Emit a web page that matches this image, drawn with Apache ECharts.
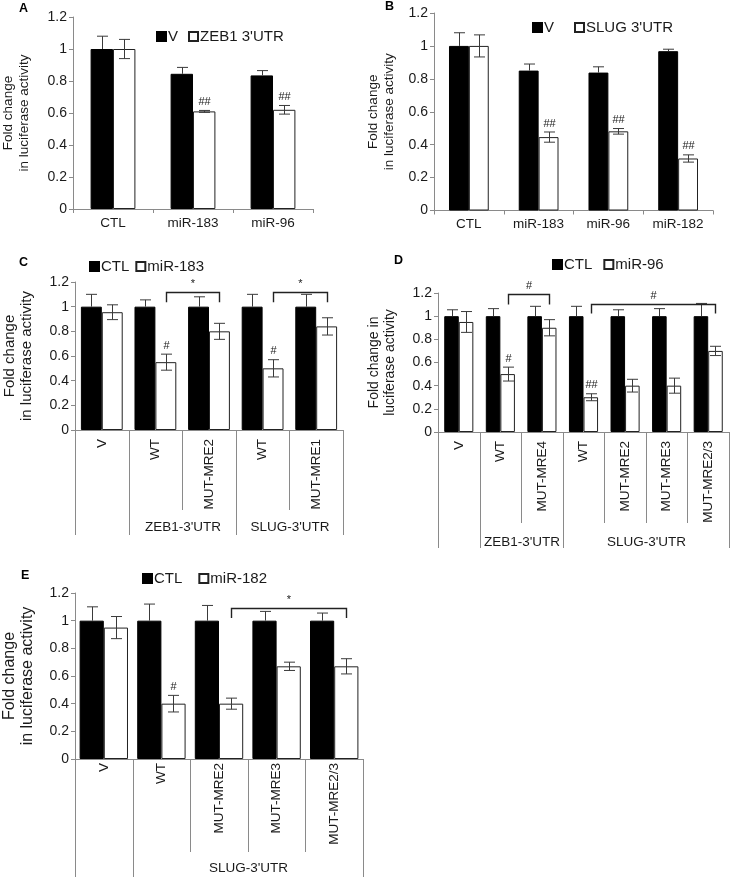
<!DOCTYPE html>
<html><head><meta charset="utf-8">
<script src="https://cdn.jsdelivr.net/npm/echarts@6/dist/echarts.min.js"></script>
<style>html,body{margin:0;padding:0;background:#fff}#c{width:733px;height:878px}</style>
</head><body><div id="c"></div>
<script>
// ---------- Panel A ----------
const catsA = ['CTL', 'miR-183', 'miR-96'];
const namesA = ['V', "ZEB1 3'UTR"];
const valsA1 = [1.0, 0.845, 0.835];
const errA1 = [0.08, 0.04, 0.03];
const valsA2 = [1.0, 0.61, 0.62];
const errA2 = [0.06, 0.006, 0.027];
const marksA = ['', '##', '##'];

// ---------- Panel B ----------
const catsB = ['CTL', 'miR-183', 'miR-96', 'miR-182'];
const namesB = ['V', "SLUG 3'UTR"];
const valsB1 = [1.0, 0.85, 0.838, 0.968];
const errB1 = [0.08, 0.04, 0.035, 0.012];
const valsB2 = [1.0, 0.446, 0.481, 0.316];
const errB2 = [0.067, 0.031, 0.017, 0.022];
const marksB = ['', '##', '##', '##'];

// ---------- Panel C ----------
const catsC = ['V', 'WT', 'MUT-MRE2', 'WT', 'MUT-MRE1'];
const namesC = ['CTL', 'miR-183'];
const valsC1 = [1, 1, 1, 1, 1];
const errC1 = [0.10, 0.055, 0.08, 0.10, 0.10];
const valsC2 = [0.955, 0.55, 0.80, 0.50, 0.84];
const errC2 = [0.06, 0.065, 0.065, 0.07, 0.07];
const marksC = ['', '#', '', '#', ''];
const groupNamesC = ['', "ZEB1-3'UTR", "SLUG-3'UTR"];
const groupStartC = [0, 1, 3];
const groupEndC = [0, 2, 4];
const brFromC = [1, 3], brToC = [2, 4], brTopC = [1.12, 1.12], brLowC = [1.035, 1.035], brLabelC = ['*', '*'];

// ---------- Panel D ----------
const catsD = ['V', 'WT', 'MUT-MRE4', 'WT', 'MUT-MRE2', 'MUT-MRE3', 'MUT-MRE2/3'];
const namesD = ['CTL', 'miR-96'];
const valsD1 = [1, 1, 1, 1, 1, 1, 1];
const errD1 = [0.055, 0.065, 0.085, 0.085, 0.055, 0.065, 0.11];
const valsD2 = [0.95, 0.50, 0.90, 0.30, 0.40, 0.40, 0.70];
const errD2 = [0.09, 0.06, 0.07, 0.03, 0.055, 0.065, 0.04];
const marksD = ['', '#', '', '##', '', '', ''];
const groupNamesD = ['', "ZEB1-3'UTR", "SLUG-3'UTR"];
const groupStartD = [0, 1, 3];
const groupEndD = [0, 2, 6];
const brFromD = [1, 3], brToD = [2, 6], brTopD = [1.19, 1.108], brLowD = [1.10, 1.022], brLabelD = ['#', '#'];

// ---------- Panel E ----------
const catsE = ['V', 'WT', 'MUT-MRE2', 'MUT-MRE3', 'MUT-MRE2/3'];
const namesE = ['CTL', 'miR-182'];
const valsE1 = [1, 1, 1, 1, 1];
const errE1 = [0.10, 0.12, 0.11, 0.067, 0.055];
const valsE2 = [0.95, 0.40, 0.40, 0.67, 0.67];
const errE2 = [0.08, 0.06, 0.04, 0.03, 0.055];
const marksE = ['', '#', '', '', ''];
const groupNamesE = ['', "SLUG-3'UTR"];
const groupStartE = [0, 1];
const groupEndE = [0, 4];
const brFromE = [2], brToE = [4], brTopE = [1.092], brLowE = [1.02], brLabelE = ['*'];

const FONT = "'Liberation Sans', Arial, sans-serif";
const AX = '#8a8a8a';
const TXT = '#1a1a1a';

const panels = [
  {cats: catsA, names: namesA, v1: valsA1, e1: errA1, v2: valsA2, e2: errA2, marks: marksA,
   grid: {left: 72, top: 17, width: 241, height: 192}, bar: 28, letter: 'A', letterPos: [19, 2],
   ytitle: 'Fold change\nin luciferase activity', ytSize: 13.5, nameGap: 41,
   legend: {left: 156, top: 29, itemGap: 10}, rotated: false},
  {cats: catsB, names: namesB, v1: valsB1, e1: errB1, v2: valsB2, e2: errB2, marks: marksB,
   grid: {left: 434, top: 13, width: 279, height: 197.5}, bar: 28.5, letter: 'B', letterPos: [385, 0],
   ytitle: 'Fold change\nin luciferase activity', ytSize: 13.5, nameGap: 37,
   legend: {left: 532, top: 20, itemGap: 20}, rotated: false},
  {cats: catsC, names: namesC, v1: valsC1, e1: errC1, v2: valsC2, e2: errC2, marks: marksC,
   grid: {left: 72, top: 282, width: 271, height: 148}, bar: 39, letter: 'C', letterPos: [19, 256],
   ytitle: 'Fold change\nin luciferase activity', ytSize: 15, nameGap: 40,
   legend: {left: 89, top: 259, itemGap: 6}, rotated: true, labelMargin: 9,
   groups: {names: groupNamesC, start: groupStartC, end: groupEndC, shortLen: 80, fullLen: 105, labelY: 97},
   br: {from: brFromC, to: brToC, top: brTopC, low: brLowC, label: brLabelC}},
  {cats: catsD, names: namesD, v1: valsD1, e1: errD1, v2: valsD2, e2: errD2, marks: marksD,
   grid: {left: 438, top: 293, width: 291, height: 139}, bar: 35, letter: 'D', letterPos: [394, 254],
   ytitle: 'Fold change in\nluciferase activity', ytSize: 14, nameGap: 40,
   legend: {left: 552, top: 257, itemGap: 11}, rotated: true, labelMargin: 9,
   groups: {names: groupNamesD, start: groupStartD, end: groupEndD, shortLen: 91, fullLen: 116, labelY: 110},
   br: {from: brFromD, to: brToD, top: brTopD, low: brLowD, label: brLabelD}},
  {cats: catsE, names: namesE, v1: valsE1, e1: errE1, v2: valsE2, e2: errE2, marks: marksE,
   grid: {left: 68, top: 593, width: 295, height: 166}, bar: 42, letter: 'E', letterPos: [21, 569],
   ytitle: 'Fold change\nin luciferase activity', ytSize: 16, nameGap: 38,
   legend: {left: 142, top: 571, itemGap: 16}, rotated: true, labelMargin: 4,
   groups: {names: groupNamesE, start: groupStartE, end: groupEndE, shortLen: 93, fullLen: 118, labelY: 109},
   br: {from: brFromE, to: brToE, top: brTopE, low: brLowE, label: brLabelE}}
];

function ln(x1, y1, x2, y2, color) {
  return {type: 'line', shape: {x1, y1, x2, y2}, style: {stroke: color, lineWidth: 1}};
}

function errRender(barPct, side, upOnly, marks) {
  return function (params, api) {
    const i = api.value(0), v = api.value(1), e = api.value(2);
    const band = api.size([1, 0])[0];
    const w = band * barPct / 100;
    const c = api.coord([i, v]);
    const x = Math.round(c[0] + side * w / 2) + 0.5;
    const top = api.coord([i, v + e])[1];
    const bot = upOnly ? c[1] : api.coord([i, v - e])[1];
    const cap = 5.5;
    const col = '#3a3a3a';
    const ch = [ln(x, top, x, bot, col), ln(x - cap, top, x + cap, top, col)];
    if (!upOnly) ch.push(ln(x - cap, bot, x + cap, bot, col));
    const m = marks ? marks[params.dataIndex] : '';
    if (m) {
      ch.push({type: 'text', x: x, y: top - 3,
        style: {text: m, fill: TXT, fontSize: 11, fontFamily: FONT, align: 'center', verticalAlign: 'bottom'}});
    }
    return {type: 'group', children: ch};
  };
}

function groupRender(g) {
  return function (params, api) {
    const s = api.value(0), e = api.value(2);
    const band = api.size([1, 0])[0];
    const y0 = api.coord([s, 0])[1];
    const xl = Math.round(api.coord([s, 0])[0] - band / 2) + 0.5;
    const xr = Math.round(api.coord([e, 0])[0] + band / 2) + 0.5;
    const ch = [ln(xl, y0, xl, y0 + g.fullLen, AX), ln(xr, y0, xr, y0 + g.fullLen, AX)];
    for (let k = s + 1; k <= e; k++) {
      const xb = Math.round(api.coord([k, 0])[0] - band / 2) + 0.5;
      ch.push(ln(xb, y0, xb, y0 + g.shortLen, AX));
    }
    const nm = g.names[params.dataIndex];
    if (nm) {
      ch.push({type: 'text', x: (xl + xr) / 2, y: y0 + g.labelY,
        style: {text: nm, fill: TXT, fontSize: 13.5, fontFamily: FONT, align: 'center', verticalAlign: 'middle'}});
    }
    return {type: 'group', children: ch};
  };
}

function bracketRender(barPct, br) {
  return function (params, api) {
    const f = api.value(0), top = api.value(1), t = api.value(2), low = api.value(3);
    const band = api.size([1, 0])[0];
    const w = band * barPct / 100;
    const x1 = Math.round(api.coord([f, 0])[0] + w / 2) + 0.5;
    const x2 = Math.round(api.coord([t, 0])[0] + w / 2) + 0.5;
    const yt = Math.round(api.coord([f, top])[1]) + 0.5;
    const yl = api.coord([f, low])[1];
    const col = '#222';
    return {type: 'group', children: [
      {type: 'polyline', shape: {points: [[x1, yl], [x1, yt], [x2, yt], [x2, yl]]}, style: {stroke: col, lineWidth: 1.4, fill: null}},
      {type: 'text', x: (x1 + x2) / 2, y: yt - 3,
        style: {text: br.label[params.dataIndex], fill: TXT, fontSize: 11, fontFamily: FONT, align: 'center', verticalAlign: 'bottom'}}
    ]};
  };
}

const option = {
  animation: false,
  backgroundColor: '#fff',
  textStyle: {fontFamily: FONT},
  title: [], grid: [], xAxis: [], yAxis: [], legend: [], series: []
};

panels.forEach((p, gi) => {
  option.title.push({text: p.letter, left: p.letterPos[0], top: p.letterPos[1], padding: 0,
    textStyle: {fontSize: 12.5, fontWeight: 'bold', color: '#000', fontFamily: FONT}});
  option.grid.push(Object.assign({containLabel: false}, p.grid));
  option.xAxis.push({
    gridIndex: gi, type: 'category', data: p.cats,
    axisLine: {show: true, lineStyle: {color: AX}},
    axisTick: {show: !p.rotated, length: 4, lineStyle: {color: AX}},
    axisLabel: p.rotated
      ? {rotate: 90, fontSize: 13.5, color: TXT, margin: p.labelMargin, interval: 0, fontFamily: FONT}
      : {fontSize: 13.5, color: TXT, margin: 7, interval: 0, fontFamily: FONT},
    splitLine: {show: false}
  });
  option.yAxis.push({
    gridIndex: gi, type: 'value', min: 0, max: 1.2, interval: 0.2,
    axisLine: {show: true, lineStyle: {color: AX}},
    axisTick: {show: true, length: 4, lineStyle: {color: AX}},
    axisLabel: {fontSize: 14, color: TXT, margin: 6, fontFamily: FONT},
    splitLine: {show: false},
    name: p.ytitle, nameLocation: 'middle', nameGap: p.nameGap,
    nameTextStyle: {fontSize: p.ytSize, color: TXT, lineHeight: p.ytSize + 2, fontFamily: FONT}
  });
  option.legend.push({
    left: p.legend.left, top: p.legend.top, itemGap: p.legend.itemGap, padding: 0,
    icon: 'rect', itemWidth: 9, itemHeight: 9,
    textStyle: {fontSize: 15, color: TXT, fontFamily: FONT, padding: [0, 0, 0, -3]},
    data: p.names.map(n => ({name: n}))
  });
  option.series.push({
    type: 'bar', name: p.names[0], xAxisIndex: gi, yAxisIndex: gi, data: p.v1,
    barWidth: p.bar + '%', barGap: '0%',
    itemStyle: {color: '#000', borderColor: '#000', borderWidth: 1}
  });
  option.series.push({
    type: 'bar', name: p.names[1], xAxisIndex: gi, yAxisIndex: gi, data: p.v2,
    barWidth: p.bar + '%', barGap: '0%',
    itemStyle: {color: '#fff', borderColor: '#222', borderWidth: 1}
  });
  option.series.push({
    type: 'custom', xAxisIndex: gi, yAxisIndex: gi, z: 5, silent: true,
    renderItem: errRender(p.bar, -1, true, null),
    data: p.v1.map((v, i) => [i, v, p.e1[i]])
  });
  option.series.push({
    type: 'custom', xAxisIndex: gi, yAxisIndex: gi, z: 5, silent: true,
    renderItem: errRender(p.bar, 1, false, p.marks),
    data: p.v2.map((v, i) => [i, v, p.e2[i]])
  });
  if (p.groups) {
    option.series.push({
      type: 'custom', xAxisIndex: gi, yAxisIndex: gi, z: 5, silent: true, clip: false,
      renderItem: groupRender(p.groups),
      data: p.groups.start.map((s, i) => [s, 0, p.groups.end[i]])
    });
  }
  if (p.br) {
    option.series.push({
      type: 'custom', xAxisIndex: gi, yAxisIndex: gi, z: 5, silent: true, clip: false,
      renderItem: bracketRender(p.bar, p.br),
      data: p.br.from.map((f, i) => [f, p.br.top[i], p.br.to[i], p.br.low[i]])
    });
  }
});

const chart = echarts.init(document.getElementById('c'), null, {renderer: 'canvas'});
chart.setOption(option);
</script>
</body></html>
